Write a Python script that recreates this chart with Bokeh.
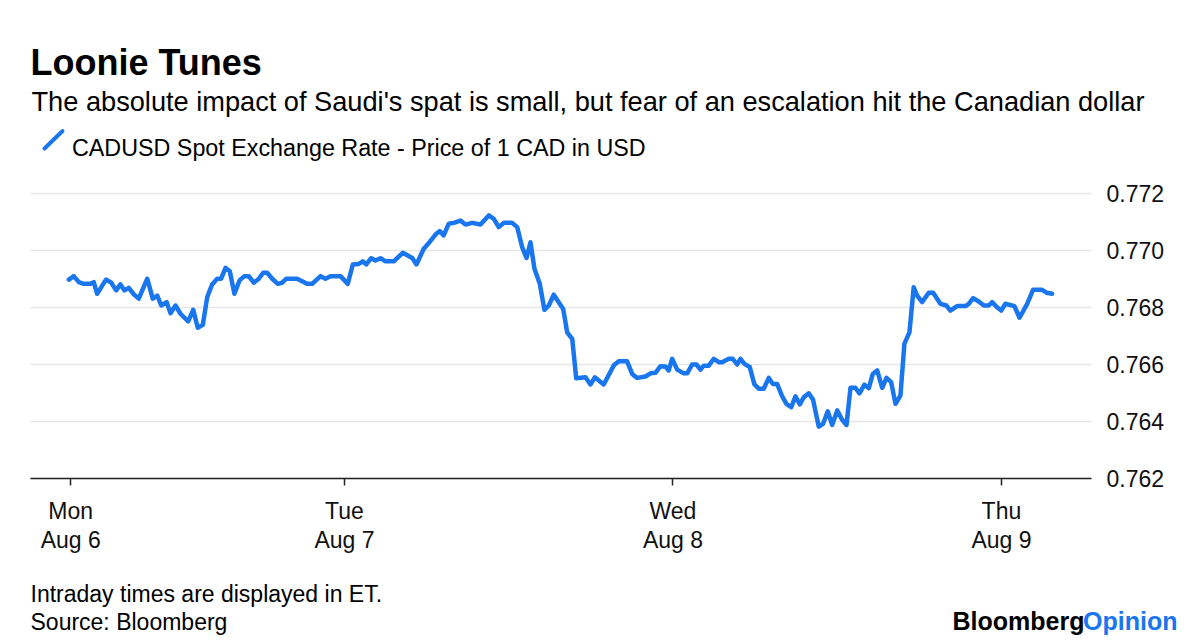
from bokeh.plotting import figure
from bokeh.models import Range1d, FixedTicker, PrintfTickFormatter, LinearAxis, Grid
from bokeh.core.properties import value
from bokeh.embed import file_html
from bokeh.resources import INLINE

# ---- data (hours since Mon Aug 6 00:00 ET, CADUSD) ----
hours = [3.86, 4.22, 4.59, 4.95, 5.44, 5.68, 5.93, 6.30, 6.59, 6.96, 7.32, 7.63, 7.93, 8.24, 8.61,
         8.97, 9.59, 9.99, 10.32, 10.61, 11.00, 11.29, 11.65, 12.02, 12.58, 12.95, 13.28, 13.65, 13.97, 14.33,
         14.70, 14.99, 15.31, 15.62, 15.96, 16.33, 16.69, 17.01, 17.37, 17.74, 18.06, 18.35, 18.72, 19.13, 19.45,
         19.74, 20.54, 21.27, 21.64, 22.25, 22.61, 22.98, 23.71, 24.24, 24.61, 25.04, 25.34, 25.59, 25.95, 26.26,
         26.63, 27.00, 27.60, 28.26, 28.95, 29.26,
         29.79, 30.16, 30.65, 30.96, 31.25, 31.62, 31.98, 32.47, 32.84, 33.33, 33.94, 34.54, 34.91, 35.27, 35.64,
         36.25, 36.62, 36.98, 37.30, 37.59, 37.88, 38.27, 38.61, 38.93, 39.29, 39.98, 40.27, 40.64, 40.93, 41.61,
         41.97, 42.29, 42.94, 43.68, 44.04, 44.65, 45.02, 45.38, 45.99, 46.36, 46.72, 47.09, 47.45, 47.69, 47.94,
         48.31, 48.79, 49.04, 49.40, 49.72, 50.01, 50.25, 50.62, 50.98, 51.35, 51.59, 52.08, 52.37, 52.69, 52.93,
         53.22, 53.61, 53.95, 54.27, 54.63, 55.00, 55.29, 55.61, 55.98, 56.29, 56.64, 56.95, 57.27, 57.56, 57.92,
         58.24, 58.65, 58.97, 59.31, 59.63, 60.00, 60.36, 60.68, 60.97, 61.33, 61.63, 61.99, 62.31, 62.60, 62.92,
         63.29, 63.60, 63.94, 64.26, 64.62, 64.91, 65.28, 65.59, 65.84, 66.21, 66.69, 67.01, 67.54, 67.98, 68.27,
         68.76, 69.37, 69.61, 69.93, 70.34, 70.71, 71.07, 71.32, 71.68, 71.98, 72.29, 72.95, 73.32, 73.88, 74.31,
         74.97, 75.29, 75.70]

cadusd = [0.76898, 0.76910, 0.76889, 0.76883, 0.76883, 0.76889, 0.76848, 0.76877, 0.76898, 0.76887, 0.76860, 0.76881, 0.76860, 0.76869, 0.76846,
          0.76831, 0.76901, 0.76831, 0.76842, 0.76807, 0.76819, 0.76780, 0.76807, 0.76778, 0.76751, 0.76792, 0.76729, 0.76739, 0.76836, 0.76881,
          0.76901, 0.76901, 0.76939, 0.76927, 0.76848, 0.76895, 0.76910, 0.76910, 0.76887, 0.76901, 0.76922, 0.76922, 0.76901, 0.76883, 0.76887,
          0.76901, 0.76901, 0.76883, 0.76883, 0.76910, 0.76901, 0.76910, 0.76910, 0.76883, 0.76951, 0.76953, 0.76962, 0.76951, 0.76973, 0.76965,
          0.76973, 0.76962, 0.76962, 0.76992, 0.76974, 0.76951,
          0.77006, 0.77026, 0.77056, 0.77068, 0.77053, 0.77094, 0.77097, 0.77105, 0.77091, 0.77097, 0.77091, 0.77123, 0.77111, 0.77082, 0.77097,
          0.77097, 0.77082, 0.77012, 0.76974, 0.77029, 0.76936, 0.76883, 0.76792, 0.76807, 0.76845, 0.76795, 0.76713, 0.76690, 0.76552, 0.76555,
          0.76530, 0.76555, 0.76530, 0.76597, 0.76611, 0.76611, 0.76567, 0.76553, 0.76558, 0.76569, 0.76571, 0.76594, 0.76593, 0.76579, 0.76620,
          0.76582, 0.76569, 0.76569, 0.76600, 0.76600, 0.76582, 0.76596, 0.76596, 0.76620, 0.76608, 0.76608, 0.76620, 0.76620, 0.76600, 0.76620,
          0.76602, 0.76591, 0.76530, 0.76515, 0.76515, 0.76553, 0.76532, 0.76532, 0.76488, 0.76462, 0.76450, 0.76488, 0.76460, 0.76485, 0.76499,
          0.76476, 0.76382, 0.76392, 0.76436, 0.76388, 0.76439, 0.76406, 0.76388, 0.76518, 0.76518, 0.76499, 0.76529, 0.76517, 0.76567, 0.76579,
          0.76518, 0.76553, 0.76538, 0.76462, 0.76491, 0.76673, 0.76713, 0.76871, 0.76842, 0.76819, 0.76852, 0.76852, 0.76813, 0.76807, 0.76789,
          0.76805, 0.76805, 0.76813, 0.76833, 0.76821, 0.76807, 0.76807, 0.76819, 0.76801, 0.76789, 0.76813, 0.76805, 0.76764, 0.76813, 0.76862,
          0.76862, 0.76852, 0.76848]

day_ticks = [4, 24, 48, 72]
day_labels = ["Mon\nAug 6", "Tue\nAug 7", "Wed\nAug 8", "Thu\nAug 9"]
y_ticks = [0.762, 0.764, 0.766, 0.768, 0.770, 0.772]

title = "Loonie Tunes"
subtitle = "The absolute impact of Saudi's spat is small, but fear of an escalation hit the Canadian dollar"
series_name = "CADUSD Spot Exchange Rate - Price of 1 CAD in USD"
note = "Intraday times are displayed in ET."
source = "Source: Bloomberg"

BLUE = "#1a76ef"
FONT = "Liberation Sans"
W, H = 1200, 640

# chart box in page pixels and the data values at its edges
PX_L, PX_R = 30, 1091          # left / right end of the plotting area
X_L, X_R = 1.06, 78.58         # hours shown at those edges
PY_T, PY_B = 193, 478          # pixel rows of the top / bottom tick values
Y_T, Y_B = y_ticks[-1], y_ticks[0]

sx = (X_R - X_L) / (PX_R - PX_L)
sy = (Y_T - Y_B) / (PY_B - PY_T)

p = figure(width=W, height=H, output_backend="svg", toolbar_location=None, title=None,
           x_range=Range1d(0, W), y_range=Range1d(H, 0),
           x_axis_type=None, y_axis_type=None,
           min_border_left=0, min_border_right=0, min_border_top=0, min_border_bottom=0)
p.outline_line_color = None
p.background_fill_color = "white"
p.border_fill_color = "white"
p.extra_x_ranges = {"time": Range1d(X_L - PX_L * sx, X_L + (W - PX_L) * sx)}
p.extra_y_ranges = {"rate": Range1d(Y_B - (H - PY_B) * sy, Y_T + PY_T * sy)}

# horizontal grid lines
try:
    grid = Grid(dimension=1, ticker=FixedTicker(ticks=y_ticks), x_range_name="time", y_range_name="rate",
                cross_bounds=(X_L, X_R), grid_line_color="#e6e6e6", grid_line_width=1.5)
    p.add_layout(grid)
except AttributeError:
    p.segment(x0=[X_L] * len(y_ticks), x1=[X_R] * len(y_ticks), y0=y_ticks, y1=y_ticks,
              x_range_name="time", y_range_name="rate", line_color="#e6e6e6", line_width=1.5)

# the series
p.line(hours, cadusd, x_range_name="time", y_range_name="rate",
       line_color=BLUE, line_width=4.5, line_join="round", line_cap="round")

# x axis
xa = LinearAxis(x_range_name="time", y_range_name="rate", fixed_location=Y_B, bounds=(X_L, X_R),
                ticker=FixedTicker(ticks=day_ticks))
xa.major_label_overrides = {t: l for t, l in zip(day_ticks, day_labels)}
xa.axis_line_color = "#222222"
xa.axis_line_width = 1.5
xa.major_tick_line_color = "#222222"
xa.major_tick_line_width = 1.5
xa.major_tick_out = 7
xa.major_tick_in = 0
xa.minor_tick_line_color = None
xa.major_label_text_font = FONT
xa.major_label_text_font_size = "23px"
xa.major_label_text_color = "#111111"
xa.major_label_text_line_height = 1.15
xa.major_label_standoff = 12
p.add_layout(xa, "below")

# y axis (labels on the right)
ya = LinearAxis(x_range_name="time", y_range_name="rate", fixed_location=X_R,
                ticker=FixedTicker(ticks=y_ticks), formatter=PrintfTickFormatter(format="%.3f"))
ya.axis_line_color = None
ya.major_tick_line_color = None
ya.minor_tick_line_color = None
ya.major_tick_out = 0
ya.major_tick_in = 0
ya.major_label_text_font = FONT
ya.major_label_text_font_size = "23px"
ya.major_label_text_color = "#111111"
ya.major_label_standoff = 15
p.add_layout(ya, "right")


def txt(x, y, text, size, bold=False, color="#000000", align="left"):
    p.text(x=[x], y=[y], text=[text], text_font=value(FONT), text_font_size=size,
           text_font_style="bold" if bold else "normal", text_color=color,
           text_align=align, text_baseline="alphabetic")


# header
txt(30, 62, title, "36px", bold=True)
txt(31, 101, subtitle, "27.2px")
txt(71.5, 147.5, series_name, "23.3px")
p.segment(x0=[44], y0=[148], x1=[62], y1=[130.5], line_color=BLUE, line_width=4, line_cap="round")

# footer
txt(30, 593.3, note, "23px")
txt(30, 621.7, source, "23px")
txt(952, 620, "Bloomberg", "25px", bold=True)
txt(1177, 620, "Opinion", "25px", bold=True, color=BLUE, align="right")

open("out.html", "w").write(file_html(p, INLINE))
